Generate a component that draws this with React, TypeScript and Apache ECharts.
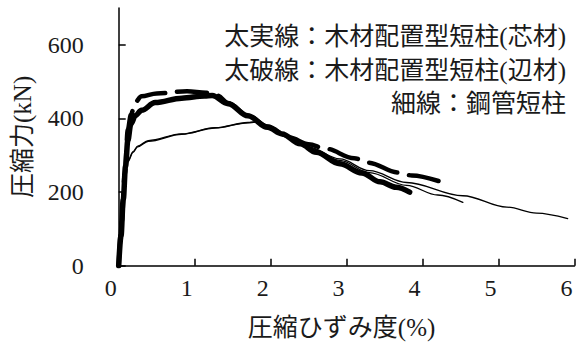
import React, { useEffect, useRef } from "react";
import * as echarts from "echarts";

const xTicks = [0, 1, 2, 3, 4, 5, 6];
const yTicks = [0, 200, 400, 600];

const thickSolid: [number, number][] = [
  [0, 0], [0.03, 80], [0.06, 180], [0.09, 270], [0.12, 340], [0.16, 385], [0.22, 408],
  [0.3, 422], [0.48, 443], [0.83, 455], [1.13, 461], [1.23, 462], [1.44, 440], [1.7, 407],
  [1.96, 376], [2.15, 358], [2.39, 331], [2.6, 308], [2.91, 277], [3.2, 252], [3.44, 228],
  [3.65, 213], [3.83, 200],
];

const thickDashed: [number, number][] = [
  [0, 0], [0.04, 120], [0.08, 250], [0.12, 370], [0.16, 410], [0.22, 445], [0.3, 460],
  [0.5, 468], [0.9, 474], [1.15, 470], [1.3, 462], [1.44, 442], [1.7, 408], [1.96, 378],
  [2.25, 348], [2.5, 330], [2.72, 318], [3.1, 292], [3.28, 280], [3.68, 253], [3.86, 245],
  [4.27, 226],
];

const thinLong: [number, number][] = [
  [0, 0], [0.04, 110], [0.08, 240], [0.12, 285], [0.19, 310], [0.25, 325], [0.39, 340],
  [0.83, 358], [1.27, 375], [1.7, 389], [1.8, 391], [1.9, 385], [2.0, 373], [2.2, 352],
  [2.5, 322], [2.91, 290], [3.3, 258], [3.79, 226], [4.53, 190], [5.11, 159], [5.5, 143],
  [5.91, 128],
];

const thinShort: [number, number][] = [
  [0, 0], [0.04, 108], [0.08, 236], [0.12, 282], [0.19, 308], [0.25, 323], [0.39, 338],
  [0.83, 357], [1.27, 374], [1.7, 388], [1.8, 390], [1.9, 384], [2.0, 372], [2.2, 350],
  [2.5, 320], [2.91, 286], [3.3, 253], [3.79, 218], [4.2, 192], [4.53, 172],
];

const legendLines = [
  "太実線：木材配置型短柱(芯材)",
  "太破線：木材配置型短柱(辺材)",
  "細線：鋼管短柱",
];

const FONT = "'Liberation Serif', 'Noto Sans CJK JP', serif";
const INK = "#1a1a1a";

export default function App() {
  const ref = useRef<HTMLDivElement>(null);
  useEffect(() => {
    if (!ref.current) return;
    const chart = echarts.init(ref.current, undefined, { renderer: "svg" });
    const lineSeries = (data: [number, number][], width: number, type: any, z: number) => ({
      type: "line",
      data,
      showSymbol: false,
      symbol: "none",
      smooth: 0.35,
      smoothMonotone: "x",
      z,
      lineStyle: { color: "#000", width, type, cap: "round", join: "round" },
    });
    chart.setOption({
      animation: false,
      backgroundColor: "#fff",
      grid: { left: 118.7, right: 2.5, top: 8, bottom: 81.3, containLabel: false },
      xAxis: {
        type: "value",
        min: 0,
        max: 6,
        interval: 1,
        name: "圧縮ひずみ度(%)",
        nameLocation: "middle",
        nameGap: 49,
        nameTextStyle: { fontFamily: FONT, fontSize: 25, color: INK, padding: [0, 10, 0, 0] },
        axisLine: { lineStyle: { color: "#000", width: 1.5 } },
        axisTick: { inside: true, length: 7, lineStyle: { color: "#000", width: 1.5 } },
        axisLabel: {
          customValues: xTicks,
          margin: 10,
          padding: [0, 16, 0, 0],
          fontFamily: FONT,
          fontSize: 24,
          color: INK,
        },
        splitLine: { show: false },
      },
      yAxis: {
        type: "value",
        min: 0,
        max: 700,
        interval: 200,
        name: "圧縮力(kN)",
        nameLocation: "middle",
        nameGap: 84,
        nameTextStyle: { fontFamily: FONT, fontSize: 25, color: INK },
        axisLine: { lineStyle: { color: "#000", width: 1.5 } },
        axisTick: { inside: true, length: 7, customValues: yTicks, lineStyle: { color: "#000", width: 1.5 } },
        axisLabel: { customValues: yTicks, margin: 35, fontFamily: FONT, fontSize: 24, color: INK },
        splitLine: { show: false },
      },
      graphic: legendLines.map((t, i) => ({
        type: "text",
        right: 11,
        top: 24 + i * 33.5,
        style: { text: t, fontFamily: FONT, fontSize: 25, fill: INK, textAlign: "right" },
      })),
      series: [
        lineSeries(thinLong, 1.3, "solid", 2),
        lineSeries(thinShort, 1.3, "solid", 2),
        lineSeries(thickDashed, 4.5, [30, 12], 3),
        lineSeries(thickSolid, 5.5, "solid", 4),
      ],
    });
    return () => chart.dispose();
  }, []);
  return (
    <div
      ref={ref}
      style={{ position: "fixed", left: 0, top: 0, width: 577, height: 347, background: "#fff" }}
    />
  );
}
